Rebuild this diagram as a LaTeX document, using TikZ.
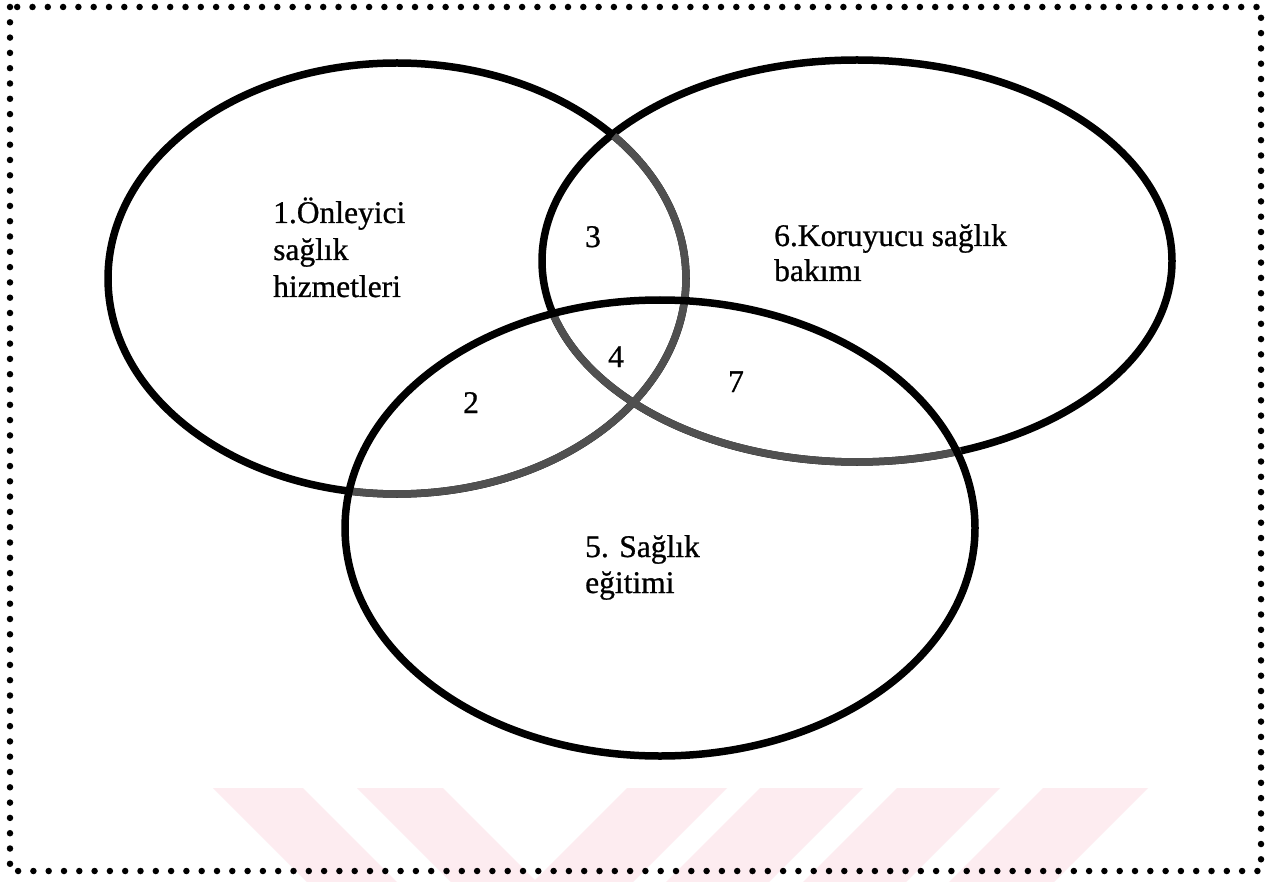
\documentclass[tikz,border=0pt]{standalone}
\usepackage{fontspec}
\setmainfont{Liberation Serif}
\newfontface\scanfont[FakeBold=0.8]{Liberation Serif}
\definecolor{wm}{RGB}{253,236,240}
\definecolor{scan}{RGB}{80,80,80}
\begin{document}
\begin{tikzpicture}[x=1pt,y=-1pt,
  ring/.style={line width=7.5pt,draw=black},
  scanarc/.style={line width=7.5pt,draw=scan},
  lbl/.style={anchor=base west,inner sep=0pt,font=\scanfont\fontsize{31.5}{37}\selectfont},
  num/.style={anchor=base,inner sep=0pt,font=\scanfont\fontsize{31.5}{37}\selectfont},
  wmband/.style={fill=wm,draw=none},
  border/.style={line width=6.5pt,line cap=round,dash pattern=on 0pt off 15.3pt}]
\useasboundingbox (0,0) rectangle (1265,882);
\fill[white] (0,0) rectangle (1265,882);
% faint watermark bands
\fill[wmband] (213,788) -- (303,788) -- (397,882) -- (307,882) -- cycle;
\fill[wmband] (357,788) -- (443,788) -- (537,882) -- (451,882) -- cycle;
\fill[wmband] (627,788) -- (727,788) -- (633,882) -- (533,882) -- cycle;
\fill[wmband] (760,788) -- (863,788) -- (769,882) -- (666,882) -- cycle;
\fill[wmband] (897,788) -- (1000,788) -- (906,882) -- (803,882) -- cycle;
\fill[wmband] (1043,788) -- (1148,788) -- (1054,882) -- (949,882) -- cycle;
% dotted frame
\draw[border] (10,7) rectangle (1261,871);
% ellipses
\coordinate (c1) at (397,278.5);
\coordinate (c2) at (857,261);
\coordinate (c3) at (660,528);
\draw[ring] (c1) ellipse [x radius=289, y radius=215.5];
\draw[ring] (c2) ellipse [x radius=315, y radius=201];
\draw[scanarc] (c1) ++(-41.4:289 and 215.5) arc[start angle=-41.4, end angle=99, x radius=289, y radius=215.5];
\draw[scanarc] (c2) ++(70.7:315 and 201) arc[start angle=70.7, end angle=164.4, x radius=315, y radius=201];
\draw[ring] (c3) ellipse [x radius=315, y radius=228];
% labels
\node[lbl] (t1a) at (273,223) {1.Önleyici};
\node[lbl] (t1b) at (273,260) {sağlık};
\node[lbl] (t1c) at (273,297) {hizmetleri};
\node[num] (n3) at (593,247) {3};
\node[num] (n4) at (616,367) {4};
\node[num] (n2) at (471,413) {2};
\node[num] (n7) at (736,392) {7};
\node[lbl] (t6a) at (774,246) {6.Koruyucu sağlık};
\node[lbl] (t6b) at (774,281) {bakımı};
\node[lbl] (t5a) at (585,557) {5. Sağlık};
\node[lbl] (t5b) at (585,593) {eğitimi};
\end{tikzpicture}
\end{document}
